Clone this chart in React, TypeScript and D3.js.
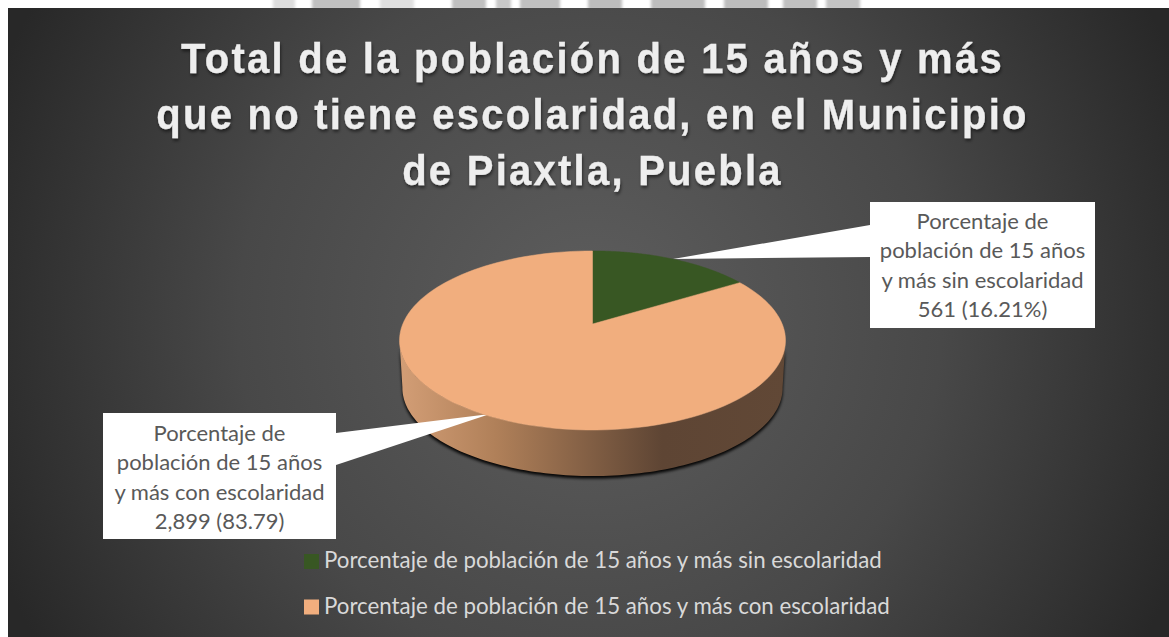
import React from 'react';
import * as d3 from 'd3';

const width = 1169;
const height = 637;

const categories = ['Porcentaje de población de 15 años y más sin escolaridad', 'Porcentaje de población de 15 años y más con escolaridad'];
const values = [561, 2899];
const colors = ['#385723', '#f1ae7e'];
const titleLines = ['Total de la población de 15 años y más', 'que no tiene escolaridad, en el Municipio', 'de Piaxtla, Puebla'];
const labelLines = [
  ['Porcentaje de', 'población de 15 años', 'y más sin escolaridad', '561 (16.21%)'],
  ['Porcentaje de', 'población de 15 años', 'y más con escolaridad', '2,899 (83.79)'],
];
// bits of the page watermark that show above the chart
const watermark = [[273, 295, '#dddddd'], [312, 360, '#c0c0c0'], [380, 414, '#e0e0e0'], [452, 486, '#c0c0c0'], [496, 511, '#c8c8c8'], [520, 560, '#c0c0c0'], [588, 622, '#bdbdbd'], [651, 705, '#bdbdbd'], [724, 768, '#bdbdbd'], [783, 817, '#c0c0c0'], [826, 860, '#c4c4c4']] as const;

const labelFont = 'Lato, "Open Sans", sans-serif';

// the pie is tilted: a circle seen in perspective, so the apex sits above the ellipse centre
const cx = 592.5;
const cy = 324;
const a = 189.7;
const b = 86.5;
const k = -0.184;

function project(angle: number, scale = 1, dy = 0): [number, number] {
  const u = Math.sin(angle);
  const v = -Math.cos(angle);
  const w = 1 + k * v;
  return [cx + (a * u * scale) / w, cy + (b * v * scale) / w + dy];
}

const line = d3.line();

function slicePath(start: number, end: number) {
  const steps = d3.range(0, 121).map(i => start + ((end - start) * i) / 120);
  return line([[cx, cy], ...steps.map(t => project(t))]) + 'Z';
}

function sidePath() {
  // silhouette runs from the right extreme of the rim round the front to the left extreme
  const vx = 16 / (b - 16 * k);
  const from = Math.PI - Math.acos(vx);
  const to = Math.PI + Math.acos(vx);
  const steps = d3.range(0, 121).map(i => from + ((to - from) * i) / 120);
  const top = steps.map(t => project(t));
  const bottom = steps.map(t => project(t, 0.985, 47.6)).reverse();
  return line([...top, ...bottom]) + 'Z';
}

export default function App() {
  const arcs = d3.pie<number>().sort(null)(values);
  const side = sidePath();

  return (
    <svg width={width} height={height} style={{ position: 'absolute', left: 0, top: 0, display: 'block' }}>
      <defs>
        <radialGradient id="bg" gradientUnits="userSpaceOnUse" cx={590} cy={320} r={640}>
          <stop offset="0" stopColor="#5e5e5e" />
          <stop offset="0.55" stopColor="#484848" />
          <stop offset="1" stopColor="#282828" />
        </radialGradient>
        <linearGradient id="side" gradientUnits="userSpaceOnUse" x1={399} x2={786} y1={0} y2={0}>
          <stop offset="0" stopColor="#d39e76" />
          <stop offset="0.25" stopColor="#b08059" />
          <stop offset="0.68" stopColor="#5e4534" />
          <stop offset="1" stopColor="#614836" />
        </linearGradient>
        <filter id="blur" x="-10%" y="-30%" width="120%" height="160%">
          <feGaussianBlur stdDeviation="1.8" />
        </filter>
        <filter id="titleShadow" x="-5%" y="-20%" width="110%" height="150%">
          <feDropShadow dx="1" dy="2.5" stdDeviation="1.5" floodColor="#000" floodOpacity="0.5" />
        </filter>
        <filter id="mark" x="-20%" y="-100%" width="140%" height="300%">
          <feGaussianBlur stdDeviation="1.5" />
        </filter>
      </defs>

      <rect width={width} height={height} fill="#fff" />
      <g filter="url(#mark)">
        {watermark.map(([x0, x1, fill]) => (
          <rect key={x0} x={x0} y={-4} width={x1 - x0} height={14} fill={fill} />
        ))}
      </g>
      <rect x={8} y={8} width={width - 8} height={height - 8} fill="url(#bg)" />

      <g filter="url(#titleShadow)" fill="#eeeeee" stroke="#eeeeee" strokeWidth={0.3} fontFamily='"Liberation Sans", Arial, sans-serif' fontWeight="700" fontSize={43} letterSpacing={2.43} textAnchor="middle" transform="translate(592.5,0) scale(0.93,1)">
        {titleLines.map((t, i) => (
          <text key={t} x={0} y={73 + i * 56}>{t}</text>
        ))}
      </g>

      <path d={side} fill="#000" opacity={0.95} filter="url(#blur)" transform="translate(0,2.5)" />
      <path d={side} fill="url(#side)" />

      <path d="M 870 225 L 673 259 L 870 257 Z" fill="#fff" />
      <path d="M 336 433 L 490 414 L 336 465 Z" fill="#fff" />

      {arcs.map((d, i) => (
        <path key={categories[i]} d={slicePath(d.startAngle, d.endAngle)} fill={colors[i]} stroke={colors[i]} strokeWidth={0.5} />
      ))}

      <rect x={870} y={202} width={225} height={126} fill="#fff" />
      <rect x={103} y={413} width={233} height={126} fill="#fff" />
      <g fontFamily={labelFont} fontSize={22} fill="#595959" textAnchor="middle">
        {labelLines[0].map((t, i) => (
          <text key={t} x={982.5} y={229 + i * 29.3}>{t}</text>
        ))}
        {labelLines[1].map((t, i) => (
          <text key={t} x={219.5} y={441 + i * 29.3}>{t}</text>
        ))}
      </g>

      {categories.map((c, i) => (
        <g key={c}>
          <rect x={304} y={554 + i * 45.5} width={15} height={15} fill={colors[i]} />
          <text x={324} y={568 + i * 45.5} fontFamily={labelFont} fontSize={22.3} fill="#d9d9d9">{c}</text>
        </g>
      ))}
    </svg>
  );
}
